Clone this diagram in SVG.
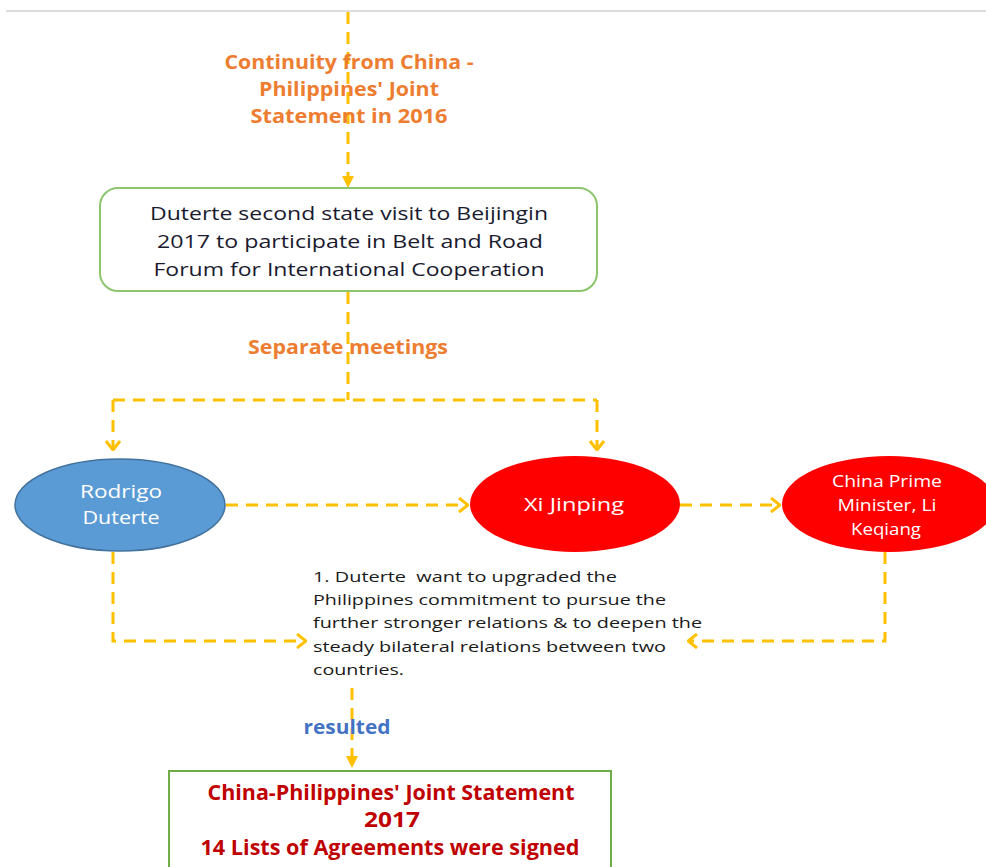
<svg xmlns="http://www.w3.org/2000/svg" width="986" height="867" viewBox="0 0 986 867">
<style>
.c{fill:none;stroke:#FFC000;stroke-width:3;stroke-dasharray:12 8}
.lbl{font-family:"Open Sans","Liberation Sans",sans-serif;font-weight:bold;text-anchor:middle}
.box{font-family:"Open Sans","Liberation Sans",sans-serif;font-size:19px;fill:#1a1a2e;text-anchor:middle}
.ell{font-family:"Open Sans","Liberation Sans",sans-serif;fill:#fff;text-anchor:middle}
.body{font-family:"Open Sans","Liberation Sans",sans-serif;font-size:15px;fill:#1a1a1a}
</style>
<defs>
<marker id="chev" viewBox="0 0 12 16" refX="11" refY="8" markerWidth="12" markerHeight="16" markerUnits="userSpaceOnUse" orient="auto">
<path d="M2,1 L11,8 L2,15" fill="none" stroke="#FFC000" stroke-width="3"/>
</marker>
<marker id="tri" viewBox="0 0 12 12" refX="11" refY="6" markerWidth="12" markerHeight="12" markerUnits="userSpaceOnUse" orient="auto">
<path d="M0,0 L12,6 L0,12 Z" fill="#FFC000"/>
</marker>
</defs>
<rect width="986" height="867" fill="#fff"/>
<line x1="6" y1="11" x2="986" y2="11" stroke="#dcdcdc" stroke-width="2"/>
<g id="connectors">
<path class="c" d="M348,12 V187" marker-end="url(#tri)"/>
<path class="c" d="M348,292 V400"/>
<path class="c" d="M113,400 H597"/>
<path class="c" d="M113,400 V450" marker-end="url(#chev)"/>
<path class="c" d="M597,400 V450" marker-end="url(#chev)"/>
<path class="c" d="M226,505 H468" marker-end="url(#chev)"/>
<path class="c" d="M680,505 H780" marker-end="url(#chev)"/>
<path class="c" d="M113,552 V641 H306" marker-end="url(#chev)"/>
<path class="c" d="M885,552 V641 H688" marker-end="url(#chev)"/>
<path class="c" d="M352,688 V767" marker-end="url(#tri)"/>
</g>
<g id="label-continuity">
<text class="lbl" font-size="20" fill="#ED7D31"><tspan x="349" y="69" textLength="249" lengthAdjust="spacingAndGlyphs">Continuity from China -</tspan><tspan x="349" y="96" textLength="180" lengthAdjust="spacingAndGlyphs">Philippines' Joint</tspan><tspan x="349" y="123" textLength="197" lengthAdjust="spacingAndGlyphs">Statement in 2016</tspan></text>
</g>
<g id="node-visit">
<rect x="100" y="188" width="497" height="103" rx="18" fill="#fff" stroke="#8CC56B" stroke-width="2"/>
<text class="box"><tspan x="349" y="220" textLength="398" lengthAdjust="spacingAndGlyphs">Duterte second state visit to Beijingin</tspan><tspan x="350" y="248" textLength="386" lengthAdjust="spacingAndGlyphs">2017 to participate in Belt and Road</tspan><tspan x="349" y="276" textLength="391" lengthAdjust="spacingAndGlyphs">Forum for International Cooperation</tspan></text>
</g>
<g id="label-separate">
<text class="lbl" font-size="20" fill="#ED7D31" x="348" y="354" textLength="200" lengthAdjust="spacingAndGlyphs">Separate meetings</text>
</g>
<g id="node-duterte">
<ellipse cx="120" cy="505" rx="105" ry="46" fill="#5B9BD5" stroke="#41719C" stroke-width="1.5"/>
<text class="ell" font-size="19"><tspan x="121" y="498" textLength="82" lengthAdjust="spacingAndGlyphs">Rodrigo</tspan><tspan x="121" y="524" textLength="77" lengthAdjust="spacingAndGlyphs">Duterte</tspan></text>
</g>
<g id="node-xi">
<ellipse cx="575" cy="504" rx="105" ry="48" fill="#FF0000"/>
<text class="ell" font-size="19" x="574" y="511" textLength="100" lengthAdjust="spacingAndGlyphs">Xi Jinping</text>
</g>
<g id="node-li">
<ellipse cx="889" cy="504" rx="107" ry="48" fill="#FF0000"/>
<text class="ell" font-size="16"><tspan x="887" y="487" textLength="110" lengthAdjust="spacingAndGlyphs">China Prime</tspan><tspan x="887" y="511" textLength="99" lengthAdjust="spacingAndGlyphs">Minister, Li</tspan><tspan x="886" y="535" textLength="70" lengthAdjust="spacingAndGlyphs">Keqiang</tspan></text>
</g>
<g id="node-text">
<text class="body" xml:space="preserve"><tspan x="313" y="582" textLength="304" lengthAdjust="spacingAndGlyphs">1. Duterte  want to upgraded the</tspan><tspan x="313" y="605" textLength="353" lengthAdjust="spacingAndGlyphs">Philippines commitment to pursue the</tspan><tspan x="313" y="628" textLength="389" lengthAdjust="spacingAndGlyphs">further stronger relations &amp; to deepen the</tspan><tspan x="313" y="652" textLength="353" lengthAdjust="spacingAndGlyphs">steady bilateral relations between two</tspan><tspan x="313" y="675" textLength="91" lengthAdjust="spacingAndGlyphs">countries.</tspan></text>
</g>
<g id="label-resulted">
<text class="lbl" font-size="20" fill="#4472C4" x="347" y="734" textLength="87" lengthAdjust="spacingAndGlyphs">resulted</text>
</g>
<g id="node-statement">
<rect x="169" y="771" width="442" height="110" fill="#fff" stroke="#70AD47" stroke-width="2"/>
<text class="lbl" font-size="21" fill="#C00000"><tspan x="391" y="800" textLength="367" lengthAdjust="spacingAndGlyphs">China-Philippines' Joint Statement</tspan><tspan x="392" y="827" textLength="56" lengthAdjust="spacingAndGlyphs">2017</tspan><tspan x="390" y="855" textLength="379" lengthAdjust="spacingAndGlyphs">14 Lists of Agreements were signed</tspan></text>
</g>
</svg>
